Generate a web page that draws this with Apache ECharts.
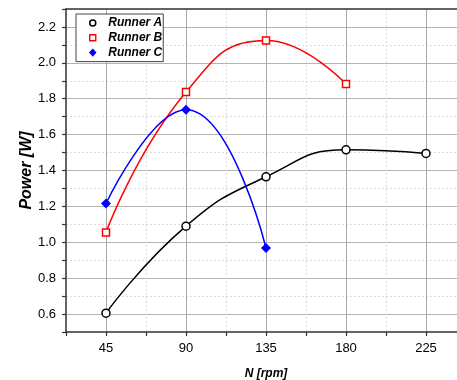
<!DOCTYPE html>
<html>
<head>
<meta charset="utf-8">
<script src="https://cdn.jsdelivr.net/npm/echarts@6/dist/echarts.min.js"></script>
<style>html,body{margin:0;padding:0;background:#fff;}#c{width:457px;height:380px;}</style>
</head>
<body>
<div id="c"></div>
<script>
const rpm = [45, 90, 135, 180, 225];
const runnerA = [0.605, 1.09, 1.365, 1.515, 1.495];
const runnerB = [1.055, 1.837, 2.124, 1.882];
const runnerC = [1.216, 1.739, 0.968];
const xTicks = [45, 90, 135, 180, 225];
const yTicks = [0.6, 0.8, 1.0, 1.2, 1.4, 1.6, 1.8, 2.0, 2.2];

const FONT = 'Arial, "Liberation Sans", sans-serif';
const pair = (vals) => vals.map((v, i) => [rpm[i], v]);

const chart = echarts.init(document.getElementById('c'), null, {renderer: 'canvas'});
const xFmt = v => xTicks.indexOf(Math.round(v * 10) / 10) >= 0 ? String(Math.round(v)) : '';
const yFmt = v => {
  const r = Math.round(v * 10) / 10;
  return yTicks.some(t => Math.abs(t - r) < 1e-6) ? r.toFixed(1) : '';
};
const SQUARE = 'path://M0,0L10,0L10,10L0,10Z';
const DIAMOND = 'path://M5,0L10,5.5L5,11L0,5.5Z';
chart.setOption({
  animation: false,
  backgroundColor: '#fff',
  grid: {left: 66, top: 9, right: -9, bottom: 48, containLabel: false, outerBoundsMode: 'none'},
  legend: {
    orient: 'vertical', left: 76, top: 14,
    padding: [3, 1, 3, 13],
    itemWidth: 21, itemHeight: 6, itemGap: 2.8,
    symbolKeepAspect: true,
    borderColor: '#444', borderWidth: 1,
    backgroundColor: '#fff',
    textStyle: {fontFamily: FONT, fontSize: 12, fontWeight: 'bold', fontStyle: 'italic', color: '#000'},
    data: [
      {name: 'Runner A', icon: 'circle', itemStyle: {color: '#fff', borderColor: '#000', borderWidth: 1.5}},
      {name: 'Runner B', icon: SQUARE, itemStyle: {color: '#fff', borderColor: '#ff0000', borderWidth: 1.4}},
      {name: 'Runner C', icon: DIAMOND, itemStyle: {color: '#0000ff', borderColor: '#0000ff', borderWidth: 1.5}}
    ]
  },
  xAxis: [
    {
      type: 'value', position: 'bottom', min: 22.5, max: 247.5, interval: 22.5,
      name: 'N [rpm]', nameLocation: 'middle', nameGap: 36,
      nameTextStyle: {fontFamily: FONT, fontSize: 12, fontWeight: 'bold', fontStyle: 'italic', color: '#000'},
      axisLine: {show: true, onZero: false, lineStyle: {color: '#333', width: 1.5}},
      axisTick: {show: true, length: 4, lineStyle: {color: '#333', width: 1.2}},
      axisLabel: {formatter: xFmt, fontFamily: FONT, fontSize: 13, color: '#000', margin: 10},
      splitLine: {show: true, lineStyle: {color: ['rgba(0,0,0,0)', '#a8a8a8'], width: 1}}
    },
    {
      type: 'value', position: 'top', min: 22.5, max: 247.5, interval: 22.5,
      axisLine: {show: true, onZero: false, lineStyle: {color: '#333', width: 1.5}},
      axisTick: {show: false}, axisLabel: {show: false},
      splitLine: {show: true, lineStyle: {color: ['#dcdcdc', 'rgba(0,0,0,0)'], width: 1, type: [2, 2]}}
    }
  ],
  yAxis: [
    {
      type: 'value', position: 'left', min: 0.5, max: 2.3, interval: 0.1,
      name: 'Power [W]', nameLocation: 'middle', nameGap: 31, nameRotate: 90, nameMoveOverlap: false,
      nameTextStyle: {fontFamily: FONT, fontSize: 16, fontWeight: 'bold', fontStyle: 'italic', color: '#000'},
      axisLine: {show: true, onZero: false, lineStyle: {color: '#333', width: 1.5}},
      axisTick: {show: true, length: 4, lineStyle: {color: '#333', width: 1.2}},
      axisLabel: {formatter: yFmt, fontFamily: FONT, fontSize: 13, color: '#000', margin: 10},
      splitLine: {show: true, lineStyle: {color: ['rgba(0,0,0,0)', '#b4b4b4'], width: 1}}
    },
    {
      type: 'value', position: 'right', min: 0.5, max: 2.3, interval: 0.1,
      axisLine: {show: false}, axisTick: {show: false}, axisLabel: {show: false},
      splitLine: {show: true, lineStyle: {color: ['#dcdcdc', 'rgba(0,0,0,0)'], width: 1, type: [2, 2]}}
    }
  ],
  series: [
    {
      name: 'Runner A', type: 'line', xAxisIndex: 0, yAxisIndex: 0,
      data: pair(runnerA), smooth: 0.5,
      symbol: 'circle', symbolSize: 8,
      itemStyle: {color: '#fff', borderColor: '#000', borderWidth: 1.5},
      lineStyle: {color: '#000', width: 1.5}, z: 3
    },
    {
      name: 'Runner B', type: 'line', xAxisIndex: 0, yAxisIndex: 0,
      data: pair(runnerB), smooth: 0.5,
      symbol: 'rect', symbolSize: 7,
      itemStyle: {color: '#fff', borderColor: '#ff0000', borderWidth: 1.5},
      lineStyle: {color: '#ff0000', width: 1.5}, z: 3
    },
    {
      name: 'Runner C', type: 'line', xAxisIndex: 0, yAxisIndex: 0,
      data: pair(runnerC), smooth: 0.5,
      symbol: 'diamond', symbolSize: 10,
      itemStyle: {color: '#0000ff', borderWidth: 0},
      lineStyle: {color: '#0000ff', width: 1.5}, z: 3
    }
  ]
});
</script>
</body>
</html>
